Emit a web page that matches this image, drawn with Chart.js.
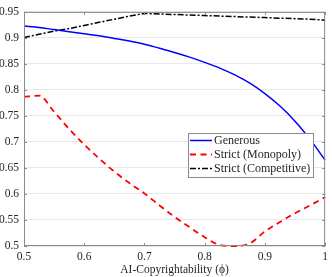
<!DOCTYPE html>
<html>
<head>
<meta charset="utf-8">
<script src="https://cdn.jsdelivr.net/npm/chart.js@4/dist/chart.umd.min.js"></script>
<style>
  html, body { margin: 0; padding: 0; background: #fff; }
  #wrap { width: 332px; height: 277px; }
</style>
</head>
<body>
<div id="wrap"><canvas id="grafico"></canvas></div>
<script>
// valores
const phi = [0.5, 0.525, 0.55, 0.575, 0.6, 0.625, 0.65, 0.675, 0.7, 0.725, 0.75,
             0.775, 0.8, 0.825, 0.85, 0.875, 0.9, 0.925, 0.95, 0.975, 1.0];
const generous = [0.923, 0.920, 0.916, 0.912, 0.908, 0.904, 0.899, 0.894, 0.888, 0.880, 0.872,
                  0.863, 0.853, 0.842, 0.829, 0.813, 0.793, 0.769, 0.740, 0.705, 0.665];
const strictMonopoly = [0.787, 0.789, 0.758, 0.725, 0.695, 0.668, 0.643, 0.621, 0.601, 0.578, 0.556,
                        0.536, 0.517, 0.502, 0.500, 0.505, 0.528, 0.546, 0.563, 0.578, 0.594];
const strictCompetitive = [0.901, 0.907, 0.913, 0.918, 0.924, 0.930, 0.936, 0.942, 0.947, 0.946, 0.945,
                           0.944, 0.943, 0.942, 0.941, 0.940, 0.939, 0.938, 0.937, 0.936, 0.934];
const xTicks = [0.5, 0.6, 0.7, 0.8, 0.9, 1];
const yTicks = [0.5, 0.55, 0.6, 0.65, 0.7, 0.75, 0.8, 0.85, 0.9, 0.95];
const seriesLabels = ['Generous', 'Strict (Monopoly)', 'Strict (Competitive)'];

const fonte = '"Liberation Serif", "DejaVu Serif", serif';
const corEixo = '#262626';
const corCaixa = '#8a8a8a';

const pontos = ys => phi.map((x, i) => ({ x, y: ys[i] }));

// caixa, marcas internas e legenda
const molduraPlugin = {
  id: 'moldura',
  afterDraw(chart) {
    const { ctx, chartArea: a, scales } = chart;
    ctx.save();
    ctx.strokeStyle = corCaixa;
    ctx.lineWidth = 1;
    ctx.strokeRect(a.left + 0.5, a.top + 0.5, a.right - a.left - 1, a.bottom - a.top - 1);
    ctx.beginPath();
    xTicks.forEach(v => {
      const px = Math.round(scales.x.getPixelForValue(v)) + 0.5;
      ctx.moveTo(px, a.bottom); ctx.lineTo(px, a.bottom - 3);
      ctx.moveTo(px, a.top); ctx.lineTo(px, a.top + 3);
    });
    yTicks.forEach(v => {
      const py = Math.round(scales.y.getPixelForValue(v)) + 0.5;
      ctx.moveTo(a.left, py); ctx.lineTo(a.left + 3, py);
      ctx.moveTo(a.right, py); ctx.lineTo(a.right - 3, py);
    });
    ctx.stroke();

    // legenda
    const bx = 188, by = 133, bw = 125, bh = 44;
    ctx.fillStyle = '#fff';
    ctx.fillRect(bx, by, bw, bh);
    ctx.strokeStyle = corCaixa;
    ctx.strokeRect(bx + 0.5, by + 0.5, bw, bh);
    ctx.font = '12px ' + fonte;
    ctx.textBaseline = 'middle';
    const linhasY = [140.5, 154.5, 168.5];
    chart.data.datasets.forEach((ds, i) => {
      const y = linhasY[i];
      ctx.strokeStyle = ds.borderColor;
      ctx.lineWidth = ds.borderWidth;
      ctx.setLineDash(ds.borderDash || []);
      ctx.beginPath();
      ctx.moveTo(bx + 2, y); ctx.lineTo(bx + 24, y);
      ctx.stroke();
      ctx.setLineDash([]);
      ctx.fillStyle = corEixo;
      ctx.fillText(ds.label, bx + 26, y + 0.5);
    });
    ctx.restore();
  }
};

new Chart(document.getElementById('grafico'), {
  type: 'line',
  data: {
    datasets: [
      { label: seriesLabels[0], data: pontos(generous), borderColor: '#0000ff', borderWidth: 1.5, pointRadius: 0, cubicInterpolationMode: 'monotone', clip: 3 },
      { label: seriesLabels[1], data: pontos(strictMonopoly), borderColor: '#ff0000', borderWidth: 1.8, borderDash: [6, 4.5], pointRadius: 0, cubicInterpolationMode: 'monotone', clip: 3 },
      { label: seriesLabels[2], data: pontos(strictCompetitive), borderColor: '#000000', borderWidth: 1.5, borderDash: [6, 2, 2, 2], pointRadius: 0, tension: 0, clip: 3 }
    ]
  },
  options: {
    responsive: true,
    maintainAspectRatio: false,
    animation: false,
    layout: { padding: { top: 5, right: 3, left: 0, bottom: 0 } },
    plugins: { legend: { display: false }, tooltip: { enabled: false } },
    scales: {
      x: {
        type: 'linear', min: 0.5, max: 1,
        afterBuildTicks: s => { s.ticks = xTicks.map(v => ({ value: v })); },
        afterFit: s => { s.height = 31; },
        grid: { display: false, drawTicks: false },
        border: { display: false },
        ticks: { color: corEixo, font: { family: fonte, size: 11.5 }, padding: 4, maxRotation: 0,
                 callback: v => String(+v.toFixed(2)) },
        title: { display: true, text: 'AI-Copyrightability (ϕ)', color: corEixo,
                 font: { family: fonte, size: 11.5 }, padding: { top: 0, bottom: 0 } }
      },
      y: {
        min: 0.5, max: 0.95,
        afterBuildTicks: s => { s.ticks = yTicks.map(v => ({ value: v })); },
        afterFit: s => { s.width = 24; },
        grid: { color: '#e8e8e8', drawTicks: false },
        border: { display: false },
        ticks: { color: corEixo, font: { family: fonte, size: 11.5 }, padding: 5,
                 callback: v => String(+v.toFixed(2)) }
      }
    }
  },
  plugins: [molduraPlugin]
});
</script>
</body>
</html>
